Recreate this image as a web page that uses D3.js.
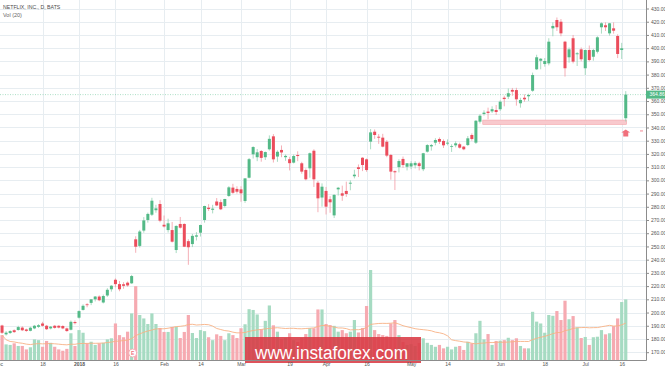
<!DOCTYPE html>
<html>
<head>
<meta charset="utf-8">
<script src="https://cdn.jsdelivr.net/npm/d3@7"></script>
<style>
body { margin: 0; background: #fff; }
svg { display: block; font-family: "Liberation Sans", Arial, sans-serif; }
</style>
</head>
<body>
<svg id="chart" width="665" height="368"></svg>
<script>
// bar index 0 = 2 Jan 2018, first bar is 4 Dec 2017
var firstIndex = -19;

// [open, high, low, close]
var ohlc = [
  [190.2,190.8,183.8,184.7],[183.5,186.0,182.6,184.8],[184.5,186.6,183.8,186.0],[186.6,187.3,184.6,185.2],
  [186.8,190.0,186.3,189.0],[188.6,189.6,186.0,186.6],[187.2,187.8,185.4,186.1],[186.2,189.2,185.8,188.5],
  [188.0,190.6,187.4,190.0],[189.2,191.2,188.4,190.4],[191.7,193.0,189.4,190.0],[190.0,190.6,186.8,187.4],
  [188.0,189.8,187.3,189.3],[190.0,190.6,187.8,188.4],[190.0,190.4,188.0,188.6],[189.8,190.4,187.4,188.0],
  [188.0,188.6,185.4,186.0],[187.0,194.0,186.5,193.0],[192.8,194.0,191.0,192.0],
  // Jan
  [196.1,201.7,195.4,201.1],[202.0,206.2,201.5,205.1],[206.2,207.1,204.0,205.6],[207.3,210.0,205.6,210.0],
  [210.0,212.5,208.4,212.1],[212.1,213.0,208.6,209.3],[207.6,213.6,206.9,212.5],[212.9,218.4,211.9,217.2],
  [217.6,220.7,215.8,220.3],[224.8,225.8,219.1,221.5],[221.5,223.9,216.1,217.6],[221.4,223.0,218.0,220.2],
  [222.6,223.5,219.5,220.5],[222.1,228.5,221.7,227.6],[255.4,257.7,245.2,249.8],[250.4,262.5,249.2,261.3],
  [262.0,272.2,260.4,269.7],[270.0,275.6,268.0,274.6],[274.0,286.8,273.0,284.6],[277.4,281.5,275.5,278.8],
  [282.1,285.0,268.3,269.5],
  // Feb
  [266.4,273.4,264.3,265.1],[262.4,271.0,260.5,267.5],[262.4,268.5,253.0,253.6],[247.3,266.0,245.0,265.5],
  [267.0,272.3,263.5,264.2],[267.0,267.5,249.5,249.8],[254.0,255.5,236.1,249.4],[251.8,259.5,249.5,258.0],
  [257.4,260.8,254.5,258.4],[260.4,266.5,257.5,266.2],[270.0,280.8,268.0,280.6],[279.3,282.0,276.8,278.3],
  [277.7,281.5,275.0,278.6],[284.0,286.6,280.5,281.0],[283.5,285.5,277.5,278.1],[280.6,286.0,279.5,285.9],
  [288.2,295.6,287.5,294.7],[294.5,297.4,289.8,290.6],[293.5,295.5,290.0,291.4],
  // Mar
  [293.2,295.5,283.8,290.2],[284.4,301.5,283.0,301.5],[302.0,316.9,301.5,316.0],[319.7,325.8,316.5,325.2],
  [317.5,323.7,314.5,321.2],[322.2,322.9,314.1,317.0],[317.5,321.8,315.4,321.4],[323.5,334.0,322.5,331.4],
  [333.3,335.0,313.5,315.9],[318.0,322.7,314.0,321.6],[323.0,326.4,317.5,321.1],[317.5,319.5,314.8,318.5],
  [316.0,317.8,307.5,313.0],[313.4,319.5,312.8,318.4],[319.2,322.0,314.5,318.4],[312.9,314.0,305.0,306.6],
  [307.8,309.0,300.0,300.8],[309.1,321.0,302.0,320.5],[322.4,323.5,295.0,300.8],[298.2,299.5,275.9,286.4],
  [287.0,297.7,280.1,295.2],
  // Apr
  [292.0,295.0,274.2,280.1],[285.7,288.0,275.5,283.4],[273.5,289.5,271.5,289.0],[293.2,295.0,288.5,294.4],
  [290.2,296.0,284.5,288.4],[292.0,299.0,287.5,289.7],[297.5,300.0,292.5,298.2],[303.1,308.0,301.5,304.3],
  [309.9,312.0,302.5,308.6],[317.1,317.5,307.0,311.6],[315.9,316.5,306.5,307.8],[329.3,338.8,323.5,336.3],
  [336.8,338.5,331.4,334.3],[333.0,335.0,327.6,332.3],[332.3,335.2,325.0,325.5],[329.2,330.5,317.5,318.7],
  [319.2,320.0,300.5,306.6],[306.9,307.5,292.7,306.1],[310.0,316.0,306.0,314.6],[316.2,318.0,309.5,311.6],
  [310.3,313.0,307.5,312.9],
  // May
  [310.5,314.5,308.5,312.9],[311.4,314.5,309.0,313.2],[312.9,314.0,307.5,310.8],[308.4,320.8,307.0,320.5],
  [321.7,327.4,321.0,326.7],[325.7,327.5,322.5,326.7],[328.5,331.9,326.5,330.5],[331.3,332.5,327.5,329.2],
  [329.8,331.0,324.5,326.5],[327.8,331.0,326.5,328.5],[325.5,327.3,321.5,326.0],[326.5,329.5,325.0,328.0],
  [327.3,328.5,324.0,324.7],[325.5,326.0,322.8,323.5],[326.7,333.5,326.0,331.8],[334.3,335.5,330.0,331.3],
  [328.5,345.5,327.5,345.1],[344.4,350.0,343.0,348.9],[350.2,353.0,349.0,351.2],[352.0,355.0,346.2,351.0],
  [352.2,356.0,351.0,353.8],[353.2,357.0,349.5,351.7],
  // Jun
  [353.8,360.5,352.5,359.5],[362.5,364.0,356.0,361.5],[363.3,369.5,361.5,365.9],[368.4,369.9,364.0,367.1],
  [368.3,370.0,356.5,361.3],[358.3,362.5,355.0,360.8],[362.5,365.0,359.5,361.3],[363.6,365.5,360.0,364.6],
  [367.8,381.5,367.0,379.7],[384.0,395.0,383.5,393.1],[390.5,392.5,384.0,392.0],[388.0,392.5,386.0,390.3],
  [388.5,407.5,387.0,404.9],[415.0,419.5,409.0,416.8],[421.3,423.2,413.0,415.8],[420.0,422.0,409.0,411.2],
  [404.9,405.5,378.5,384.8],[393.1,400.5,389.0,399.1],[407.5,410.0,388.5,389.8],[395.4,397.0,386.5,396.1],
  [399.1,400.5,390.0,391.6],
  // Jul
  [384.8,398.8,379.7,398.6],[398.6,402.0,390.0,391.0],[393.5,399.5,390.5,398.6],[397.3,409.0,396.0,408.2],
  [415.8,419.5,411.0,418.8],[417.3,419.5,413.0,415.8],[411.2,419.0,409.5,418.8],[415.0,419.5,411.0,413.2],
  [409.2,410.5,392.5,395.6],[398.6,404.0,391.8,399.9],[347.0,367.5,344.5,364.86]
];

// volume, millions
var volume = [
  9.4,5.9,5.7,6.3,5.3,5.3,4.0,4.8,7.8,7.5,5.0,7.2,6.5,5.0,4.0,3.5,4.2,10.1,5.3,
  11.3,10.3,6.3,6.9,5.7,6.3,6.5,7.8,8.2,13.8,9.4,8.6,10.7,17.6,
  27.9,17.0,15.7,13.6,17.6,13.6,12.1,10.6,10.6,12.5,12.5,8.3,10.6,17.0,10.2,8.3,11.3,10.9,8.6,7.5,
  9.7,9.1,7.5,10.1,9.4,8.3,12.0,13.5,19.2,18.9,17.2,11.6,14.8,20.6,13.1,
  10.7,7.9,8.3,10.1,7.5,6.8,8.3,9.8,12.0,12.0,19.1,19.1,13.6,13.2,12.9,10.7,11.3,10.1,10.7,15.1,
  10.4,12.1,20.4,34.0,11.3,9.8,9.4,9.1,13.8,15.1,9.4,6.8,5.7,6.0,5.3,6.4,
  8.2,6.5,5.7,5.0,5.7,4.4,5.0,4.0,5.0,5.3,3.8,6.9,6.3,10.1,14.8,7.8,9.8,5.7,7.2,7.3,7.5,8.4,7.5,8.2,5.3,4.4,4.4,
  18.2,14.5,13.8,10.3,17.0,16.7,18.5,15.1,22.4,15.4,16.6,12.3,8.3,8.7,5.7,8.6,8.8,11.3,9.7,10.1,12.8,15.7,21.9,22.9
];

var priceTicks = [170,180,190,200,210,220,230,240,250,260,270,280,290,300,310,320,330,340,350,360,370,380,390,400,410,420,430];
var dateTickIndex = [-20,-9,0,9,21,30,40,52,61,71,82,91,104,115,125,134];
var dateTickLabel = ["Dec","18","2018","16","Feb","14","Mar","19","Apr","16","May","14","Jun","18","Jul","16"];

var lastPrice = 364.86;
var zone = { from: 99.7, to: 135.2, low: 342.3, high: 345.6 };
var earningsIndex = 13.25;

var upColor = "#53b987", downColor = "#eb4d5c";
var upWick = "#93d2b3", downWick = "#f29aa3";
var upVol = "#a6dbc2", downVol = "#f6aab1";

var svg = d3.select("#chart");
var axisX = 646, axisY = 360;

var x = d3.scaleLinear().domain([0, 134]).range([79, 621.7]);
var y = d3.scaleLinear().domain([170, 430]).range([352.2, 8.5]);
var yVol = d3.scaleLinear().domain([0, 34]).range([axisY, 270]);

var bars = ohlc.map(function(d, k) {
  return { i: k + firstIndex, o: d[0], h: d[1], l: d[2], c: d[3], v: volume[k] };
});

// grid
var grid = svg.append("g").attr("stroke", "#e7edf1").attr("stroke-width", 1);
grid.selectAll("line.h").data(priceTicks).enter().append("line")
  .attr("x1", 0).attr("x2", axisX)
  .attr("y1", function(d) { return Math.round(y(d)) + 0.5; })
  .attr("y2", function(d) { return Math.round(y(d)) + 0.5; });
grid.selectAll("line.v").data(dateTickIndex).enter().append("line")
  .attr("y1", 0).attr("y2", axisY)
  .attr("x1", function(d) { return Math.round(x(d)) + 0.5; })
  .attr("x2", function(d) { return Math.round(x(d)) + 0.5; });

// volume bars
svg.append("g").selectAll("rect").data(bars).enter().append("rect")
  .attr("x", function(d) { return x(d.i) - 1.6; })
  .attr("width", 3.2)
  .attr("y", function(d) { return yVol(d.v); })
  .attr("height", function(d) { return axisY - yVol(d.v); })
  .attr("fill", function(d) { return d.c >= d.o ? upVol : downVol; });

// volume moving average (20)
var ma = volume.map(function(v, k) {
  return d3.mean(volume.slice(Math.max(0, k - 19), k + 1));
});
svg.append("path")
  .datum(ma)
  .attr("fill", "none")
  .attr("stroke", "#f7b184")
  .attr("stroke-width", 0.9)
  .attr("d", d3.line()
    .x(function(d, k) { return x(k + firstIndex); })
    .y(function(d) { return yVol(d); }));

// last price line
svg.append("line")
  .attr("x1", 0).attr("x2", axisX)
  .attr("y1", y(lastPrice)).attr("y2", y(lastPrice))
  .attr("stroke", upColor).attr("stroke-opacity", 0.6)
  .attr("stroke-dasharray", "1,1.5").attr("stroke-width", 0.8);

// highlighted zone
svg.append("rect")
  .attr("x", x(zone.from)).attr("width", x(zone.to) - x(zone.from))
  .attr("y", y(zone.high)).attr("height", y(zone.low) - y(zone.high))
  .attr("fill", "#f8c9cd").attr("stroke", "#f4a2aa").attr("stroke-width", 0.6);

// candles
var candles = svg.append("g");
candles.selectAll("line").data(bars).enter().append("line")
  .attr("x1", function(d) { return x(d.i); })
  .attr("x2", function(d) { return x(d.i); })
  .attr("y1", function(d) { return y(d.h); })
  .attr("y2", function(d) { return y(d.l); })
  .attr("stroke", function(d) { return d.c >= d.o ? upWick : downWick; })
  .attr("stroke-width", 0.8);
candles.selectAll("rect").data(bars).enter().append("rect")
  .attr("x", function(d) { return x(d.i) - 1.5; })
  .attr("width", 3)
  .attr("y", function(d) { return y(Math.max(d.o, d.c)); })
  .attr("height", function(d) { return Math.max(0.8, Math.abs(y(d.o) - y(d.c))); })
  .attr("fill", function(d) { return d.c >= d.o ? upColor : downColor; });

// up arrow under the last bar
var ax = x(135), ay = y(zone.low) + 5;
svg.append("path")
  .attr("d", "M" + ax + "," + ay + "l4.5,3h-2v4h-5v-4h-2z")
  .attr("fill", "#f0707c");
svg.append("rect").attr("x", 640).attr("y", ay + 1).attr("width", 3).attr("height", 1)
  .attr("fill", "#f28b96");

// earnings marker
var eg = svg.append("g").attr("transform", "translate(" + x(earningsIndex) + ",353)");
eg.append("circle").attr("r", 4).attr("fill", "#fff").attr("stroke", "#f4a3ab").attr("stroke-width", 0.8);
eg.append("text").attr("text-anchor", "middle").attr("dy", "1.8")
  .attr("font-size", 5).attr("font-weight", "bold").attr("fill", "#ef7480").text("E");

// watermark
svg.append("rect").attr("x", 245).attr("y", 337).attr("width", 176).attr("height", 26)
  .attr("fill", "#da3a44").attr("fill-opacity", 0.88);
svg.append("text").attr("x", 255).attr("y", 358.5)
  .attr("font-size", 18).attr("fill", "#fff")
  .attr("textLength", 153).attr("lengthAdjust", "spacingAndGlyphs")
  .text("www.instaforex.com");

// right price axis
var yAxis = svg.append("g").attr("transform", "translate(" + axisX + ",0)")
  .call(d3.axisRight(y).tickValues(priceTicks).tickSize(3).tickPadding(2)
    .tickFormat(d3.format(".2f")));
yAxis.select(".domain").remove();
yAxis.selectAll("line").attr("stroke", "#8c8c8c");
yAxis.selectAll("text").attr("font-size", 5).attr("fill", "#555").attr("font-family", null);

// bottom time axis
var xAxis = svg.append("g").attr("transform", "translate(0," + axisY + ")")
  .call(d3.axisBottom(x).tickValues(dateTickIndex).tickSize(0).tickPadding(2.5)
    .tickFormat(function(d, k) { return dateTickLabel[k]; }));
xAxis.select(".domain").remove();
xAxis.selectAll("text").attr("font-size", 5).attr("fill", "#555").attr("font-family", null)
  .attr("font-weight", function(d, k) { return dateTickLabel[k] === "2018" ? "bold" : null; });

svg.append("line").attr("x1", axisX + 0.5).attr("x2", axisX + 0.5).attr("y1", 0).attr("y2", axisY + 0.5)
  .attr("stroke", "#8c8c8c");
svg.append("line").attr("x1", 0).attr("x2", axisX + 0.5).attr("y1", axisY + 0.5).attr("y2", axisY + 0.5)
  .attr("stroke", "#8c8c8c");

// last price tag
var tag = svg.append("g").attr("transform", "translate(" + axisX + "," + y(lastPrice) + ")");
tag.append("rect").attr("x", 0).attr("y", -4).attr("width", 19).attr("height", 8).attr("fill", upColor);
tag.append("text").attr("x", 3.5).attr("y", 1.8).attr("font-size", 5).attr("fill", "#fff")
  .text(lastPrice.toFixed(2));

// legend
svg.append("text").attr("x", 3).attr("y", 8.5).attr("font-size", 5.2).attr("fill", "#4a4a4a")
  .text("NETFLIX, INC., D, BATS");
svg.append("text").attr("x", 3).attr("y", 16.5).attr("font-size", 5.5).attr("fill", "#666")
  .text("Vol (20)");
</script>
</body>
</html>
